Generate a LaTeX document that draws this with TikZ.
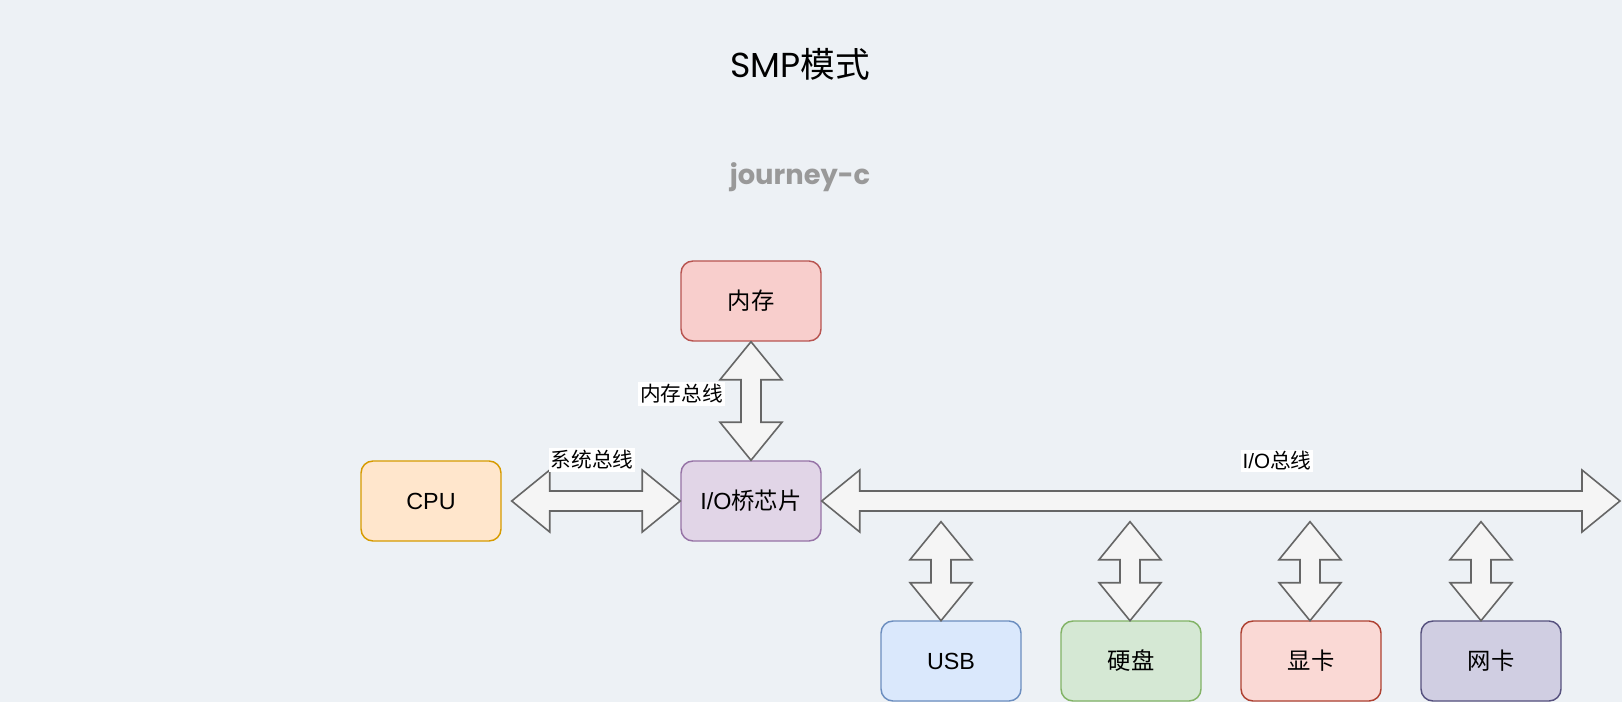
\documentclass[tikz,border=0pt]{standalone}
\usepackage{fontspec}
\setmainfont{Liberation Sans}
\newfontfamily\cjk{Noto Sans CJK SC}
\newfontfamily\titlefont{Poppins}
\usetikzlibrary{calc}
\definecolor{bg}{HTML}{EDF1F5}
\definecolor{arrowfill}{HTML}{F5F5F5}
\definecolor{arrowline}{HTML}{666666}
\definecolor{memfill}{HTML}{F8CECC}\definecolor{memline}{HTML}{B85450}
\definecolor{cpufill}{HTML}{FFE6CC}\definecolor{cpuline}{HTML}{D79B00}
\definecolor{iofill}{HTML}{E1D5E7}\definecolor{ioline}{HTML}{9673A6}
\definecolor{usbfill}{HTML}{DAE8FC}\definecolor{usbline}{HTML}{6C8EBF}
\definecolor{hddfill}{HTML}{D5E8D4}\definecolor{hddline}{HTML}{82B366}
\definecolor{gpufill}{HTML}{FAD9D5}\definecolor{gpuline}{HTML}{AE4132}
\definecolor{nicfill}{HTML}{D0CEE2}\definecolor{nicline}{HTML}{56517E}
\definecolor{wmgray}{HTML}{999999}
\newcommand\vdarrow[2]{%
  \draw[busarrow] (#1) -- ++(31,38) -- ++(-21,0) -- ($(#2)+(10,-38)$) -- ++(21,0) -- (#2)
    -- ++(-31,-38) -- ++(21,0) -- ($(#1)+(-10,38)$) -- ++(-21,0) -- cycle;}
\newcommand\hdarrow[2]{%
  \draw[busarrow] (#1) -- ++(38,-31) -- ++(0,21) -- ($(#2)+(-38,-10)$) -- ++(0,-21) -- (#2)
    -- ++(-38,31) -- ++(0,-21) -- ($(#1)+(38,10)$) -- ++(0,21) -- cycle;}
\begin{document}
\begin{tikzpicture}[x=0.75pt,y=-0.75pt,
  box/.style={draw, line width=1.1pt, rounded corners=9pt, minimum width=105pt,
    minimum height=60pt, inner sep=0pt, text=black, font=\fontsize{17.5}{20}\selectfont},
  busarrow/.style={draw=arrowline, fill=arrowfill, line width=1.2pt, line join=miter},
  buslabel/.style={fill=white, inner sep=1.5pt, text=black, font=\fontsize{15.5}{17}\selectfont}]
\path[fill=bg] (0,0) rectangle (1622,702);
\useasboundingbox (0,0) rectangle (1622,702);

\node[text=black, font=\fontsize{26}{30}\selectfont] (title) at (800,64) {{\titlefont SMP}{\cjk 模式}};
\node[text=wmgray, font=\fontsize{20.5}{24}\selectfont] (wm) at (800,177) {\titlefont\bfseries journey-c};

\node[box, draw=memline, fill=memfill] (mem) at (751,301) {\cjk 内存};
\node[box, draw=ioline, fill=iofill] (io) at (751,501) {I/O{\cjk 桥芯片}};
\node[box, draw=cpuline, fill=cpufill] (cpu) at (431,501) {CPU};
\node[box, draw=usbline, fill=usbfill] (usb) at (951,661) {USB};
\node[box, draw=hddline, fill=hddfill] (hdd) at (1131,661) {\cjk 硬盘};
\node[box, draw=gpuline, fill=gpufill] (gpu) at (1311,661) {\cjk 显卡};
\node[box, draw=nicline, fill=nicfill] (nic) at (1491,661) {\cjk 网卡};

\coordinate (sysL) at (511.7,501);
\coordinate (busR) at (1620,501);
\coordinate (usbT) at (941,521.7);  \coordinate (usbB) at (941,620.7);
\coordinate (hddT) at (1130,521.7); \coordinate (hddB) at (1130,620.7);
\coordinate (gpuT) at (1310,521.7); \coordinate (gpuB) at (1310,620.7);
\coordinate (nicT) at (1481,521.7); \coordinate (nicB) at (1481,620.7);

\vdarrow{mem.south}{io.north}
\hdarrow{sysL}{io.west}
\hdarrow{io.east}{busR}
\vdarrow{usbT}{usbB}
\vdarrow{hddT}{hddB}
\vdarrow{gpuT}{gpuB}
\vdarrow{nicT}{nicB}

\node[buslabel] (memlbl) at (681.5,394) {\cjk 内存总线};
\node[buslabel] (syslbl) at (592,460) {\cjk 系统总线};
\node[buslabel] (iolbl) at (1277,461) {I/O{\cjk 总线}};
\end{tikzpicture}
\end{document}
